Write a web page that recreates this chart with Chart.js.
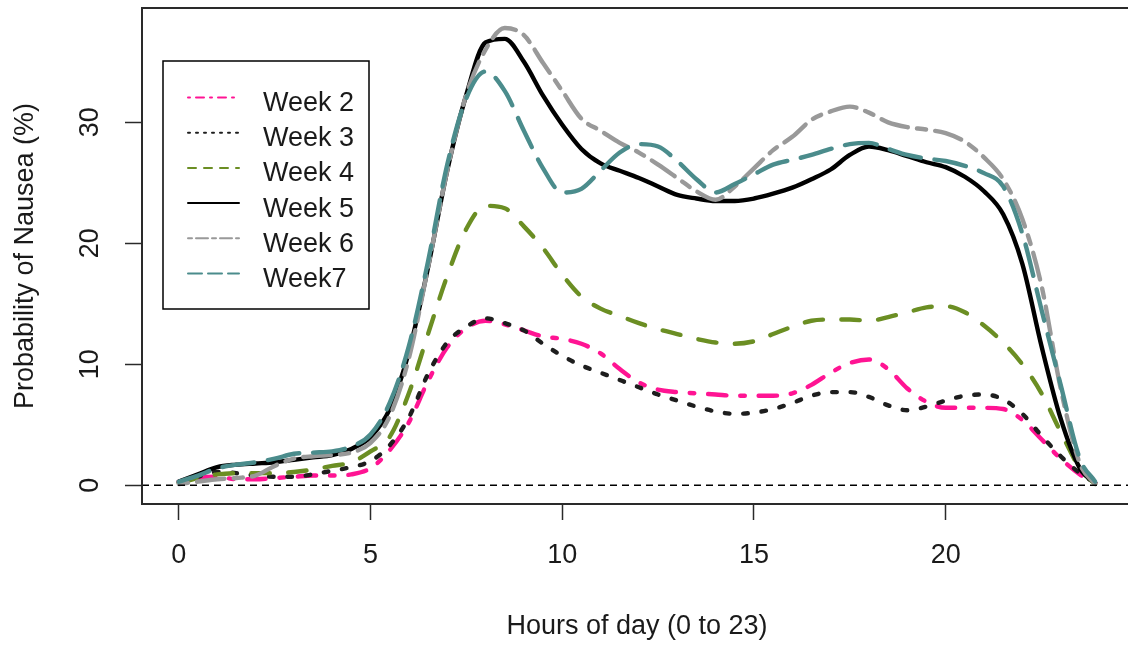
<!DOCTYPE html>
<html>
<head>
<meta charset="utf-8">
<title>Probability of Nausea by hour</title>
<script src="https://cdn.jsdelivr.net/npm/chart.js@4/dist/chart.umd.min.js"></script>
<style>
    html, body { margin: 0; padding: 0; background: #fff; overflow: hidden; }
    #wrap { width: 1136px; height: 648px; }
</style>
</head>
<body>
<div id="wrap"><canvas id="nauseaChart" width="1136" height="648"></canvas></div>
<script>
// ======================================================
// DATA
// ======================================================
const hours = [0, 0.5, 1, 1.5, 2, 2.5, 3, 3.5, 4, 4.5, 5, 5.5, 6, 6.5, 7, 7.5, 8, 8.5, 9, 9.5,
    10, 10.5, 11, 11.5, 12, 12.5, 13, 13.5, 14, 14.5, 15, 15.5, 16, 16.5, 17, 17.5, 18, 18.5, 19, 19.5,
    20, 20.5, 21, 21.5, 22, 22.5, 23, 23.5, 23.9];

const week2 = [0.3, 0.6, 0.7, 0.5, 0.5, 0.6, 0.7, 0.8, 0.8, 0.9, 1.4, 2.9, 5.2, 8.6, 11.4, 13.0, 13.6, 13.3, 12.8, 12.3,
    12.1, 11.7, 10.9, 9.6, 8.5, 7.9, 7.7, 7.6, 7.5, 7.4, 7.4, 7.4, 7.6, 8.3, 9.3, 10.1, 10.4, 9.6, 8.0, 6.9,
    6.4, 6.4, 6.4, 6.3, 5.4, 3.8, 2.2, 0.9, 0.2];

const week3 = [0.2, 0.7, 1.1, 1.0, 0.8, 0.7, 0.7, 0.9, 1.2, 1.5, 2.0, 3.3, 5.6, 9.2, 11.8, 13.1, 13.8, 13.4, 12.8, 11.7,
    10.7, 9.9, 9.3, 8.7, 8.1, 7.5, 7.0, 6.5, 6.1, 5.9, 6.0, 6.3, 6.8, 7.4, 7.7, 7.7, 7.3, 6.6, 6.2, 6.5,
    7.0, 7.4, 7.5, 7.1, 5.9, 4.1, 2.4, 1.0, 0.2];

const week4 = [0.2, 0.6, 0.9, 1.0, 1.0, 1.0, 1.1, 1.3, 1.6, 1.9, 2.8, 4.0, 7.6, 12.5, 17.3, 21.2, 23.1, 22.9, 21.4, 19.6,
    17.4, 15.6, 14.6, 14.0, 13.4, 12.9, 12.5, 12.1, 11.8, 11.7, 11.9, 12.5, 13.1, 13.6, 13.7, 13.7, 13.6, 13.9, 14.3, 14.7,
    14.8, 14.3, 13.2, 11.8, 10.0, 7.6, 4.4, 1.4, 0.1];

const week5 = [0.3, 0.9, 1.5, 1.7, 1.8, 1.9, 2.1, 2.3, 2.5, 3.0, 4.0, 6.3, 11.0, 18.0, 26.0, 32.3, 36.6, 36.9, 35.0, 32.2,
    29.8, 27.8, 26.6, 26.0, 25.4, 24.7, 24.0, 23.7, 23.5, 23.5, 23.7, 24.1, 24.6, 25.3, 26.1, 27.3, 28.0, 27.7, 27.2, 26.7,
    26.3, 25.5, 24.3, 22.4, 18.3, 11.5, 5.5, 1.4, 0.2];

const week6 = [0.1, 0.3, 0.5, 0.6, 0.8, 1.6, 2.2, 2.4, 2.5, 2.7, 3.5, 5.7, 10.5, 18.0, 26.0, 32.3, 36.0, 37.8, 37.2, 34.9,
    32.6, 30.3, 29.3, 28.3, 27.5, 26.5, 25.4, 24.3, 23.6, 24.7, 26.2, 27.7, 28.8, 30.2, 30.9, 31.3, 30.8, 30.0, 29.6, 29.4,
    29.1, 28.4, 27.1, 25.3, 22.0, 16.5, 8.0, 1.8, 0.1];

const week7 = [0.3, 0.8, 1.4, 1.7, 1.9, 2.2, 2.6, 2.7, 2.8, 3.2, 4.2, 6.8, 11.5, 18.5, 26.5, 32.0, 34.2, 32.6, 29.3, 26.2,
    24.2, 24.5, 26.0, 27.5, 28.2, 28.0, 26.8, 25.3, 24.2, 24.9, 25.7, 26.5, 26.9, 27.3, 27.8, 28.2, 28.3, 27.8, 27.3, 27.0,
    26.8, 26.4, 25.8, 24.7, 20.8, 14.5, 8.3, 2.2, 0.3];

const xTicks = [0, 5, 10, 15, 20];
const yTicks = [0, 10, 20, 30];

// R line types as on/off units (scaled by line width when drawn)
const LTY = {
    solid: [],
    dashed: [4, 4],
    dotted: [1, 3],
    dotdash: [1, 3, 4, 3],
    longdash: [7, 3],
    twodash: [2, 2, 6, 2]
};

const SERIES = [
    { label: "Week 2", data: week2, color: "#ff1493", lty: "dotdash" },
    { label: "Week 3", data: week3, color: "#1e1e1e", lty: "dotted" },
    { label: "Week 4", data: week4, color: "#6b8e23", lty: "dashed" },
    { label: "Week 5", data: week5, color: "#000000", lty: "solid" },
    { label: "Week 6", data: week6, color: "#999999", lty: "twodash" },
    { label: "Week7",  data: week7, color: "#4b8c8c", lty: "longdash" }
];

const FONT = "'Liberation Sans', Arial, sans-serif";
const TEXT_COLOR = "#1a1a1a";
const LINE_W = 4.4;
const DASH_UNIT = 4.6;

// ======================================================
// PLUGINS: box, zero line, y tick labels, legend
// ======================================================
const rBoxPlugin = {
    id: "rBox",
    afterDatasetsDraw(chart) {
        const { ctx, chartArea: a, scales } = chart;
        const y0 = scales.y.getPixelForValue(0);

        // abline(h = 0, lty = 2)
        ctx.save();
        ctx.strokeStyle = "#000";
        ctx.lineWidth = 1.5;
        ctx.setLineDash([7, 5]);
        ctx.beginPath();
        ctx.moveTo(a.left, y0);
        ctx.lineTo(a.right, y0);
        ctx.stroke();
        ctx.restore();

        // plot frame
        ctx.save();
        ctx.strokeStyle = "#2a2a2a";
        ctx.lineWidth = 2;
        ctx.strokeRect(a.left, a.top, a.right - a.left, a.bottom - a.top);
        ctx.restore();
    },
    afterDraw(chart) {
        const { ctx, scales } = chart;

        // y tick labels, rotated like R's las = 0
        ctx.save();
        ctx.fillStyle = TEXT_COLOR;
        ctx.font = `27px ${FONT}`;
        ctx.textAlign = "center";
        ctx.textBaseline = "middle";
        scales.y.ticks.forEach(t => {
            const y = scales.y.getPixelForValue(t.value);
            ctx.save();
            ctx.translate(91, y);
            ctx.rotate(-Math.PI / 2);
            ctx.fillText(String(t.value), 0, 0);
            ctx.restore();
        });
        ctx.restore();

        // legend box
        const lx = 163, ly = 61, lw = 206, lh = 248;
        ctx.save();
        ctx.fillStyle = "#fff";
        ctx.fillRect(lx, ly, lw, lh);
        ctx.strokeStyle = "#000";
        ctx.lineWidth = 1.5;
        ctx.strokeRect(lx, ly, lw, lh);

        ctx.font = `27px ${FONT}`;
        ctx.textBaseline = "alphabetic";
        ctx.textAlign = "left";
        SERIES.forEach((s, i) => {
            const y = 97.5 + i * 35.2;
            ctx.save();
            ctx.strokeStyle = s.color;
            ctx.lineWidth = 2;
            ctx.lineCap = "round";
            ctx.setLineDash(LTY[s.lty].map(u => u * 2));
            ctx.beginPath();
            ctx.moveTo(188, y);
            ctx.lineTo(239, y);
            ctx.stroke();
            ctx.restore();

            ctx.fillStyle = TEXT_COLOR;
            ctx.fillText(s.label, 263, y + 13.5);
        });
        ctx.restore();
    }
};

// ======================================================
// CHART
// ======================================================
function initChart() {
    const datasets = SERIES.map((s, i) => ({
        label: s.label,
        data: hours.map((h, k) => ({ x: h, y: s.data[k] })),
        borderColor: s.color,
        borderWidth: LINE_W,
        borderDash: LTY[s.lty].map(u => u * DASH_UNIT),
        borderCapStyle: "round",
        borderJoinStyle: "round",
        pointRadius: 0,
        fill: false,
        cubicInterpolationMode: "monotone",
        order: SERIES.length - 1 - i
    }));

    new Chart(document.getElementById("nauseaChart"), {
        type: "line",
        data: { datasets },
        options: {
            responsive: false,
            animation: false,
            events: [],
            layout: { padding: { top: 8, right: 4, left: 0, bottom: 0 } },
            plugins: {
                legend: { display: false },
                tooltip: { enabled: false }
            },
            scales: {
                x: {
                    type: "linear",
                    min: -0.96,
                    max: 24.86,
                    afterBuildTicks: scale => { scale.ticks = xTicks.map(v => ({ value: v })); },
                    afterFit: scale => { scale.height = 144; },
                    border: { display: false },
                    grid: {
                        drawOnChartArea: false,
                        tickLength: 16,
                        tickColor: "#2a2a2a",
                        tickWidth: 1.5
                    },
                    ticks: {
                        color: TEXT_COLOR,
                        font: { family: FONT, size: 27 },
                        padding: 19,
                        maxRotation: 0,
                        autoSkip: false
                    },
                    title: {
                        display: true,
                        text: "Hours of day (0 to 23)",
                        color: TEXT_COLOR,
                        font: { family: FONT, size: 27 },
                        padding: { top: 0, bottom: 5 }
                    }
                },
                y: {
                    type: "linear",
                    min: -1.55,
                    max: 39.45,
                    afterBuildTicks: scale => { scale.ticks = yTicks.map(v => ({ value: v })); },
                    afterFit: scale => { scale.width = 142; },
                    border: { display: false },
                    grid: {
                        drawOnChartArea: false,
                        tickLength: 17,
                        tickColor: "#2a2a2a",
                        tickWidth: 1.5
                    },
                    ticks: { display: false },
                    title: {
                        display: true,
                        text: "Probability of Nausea (%)",
                        color: TEXT_COLOR,
                        font: { family: FONT, size: 27 },
                        padding: { top: 9, bottom: 0 }
                    }
                }
            }
        },
        plugins: [rBoxPlugin]
    });
}

window.onload = () => {
    initChart();
};
</script>
</body>
</html>
